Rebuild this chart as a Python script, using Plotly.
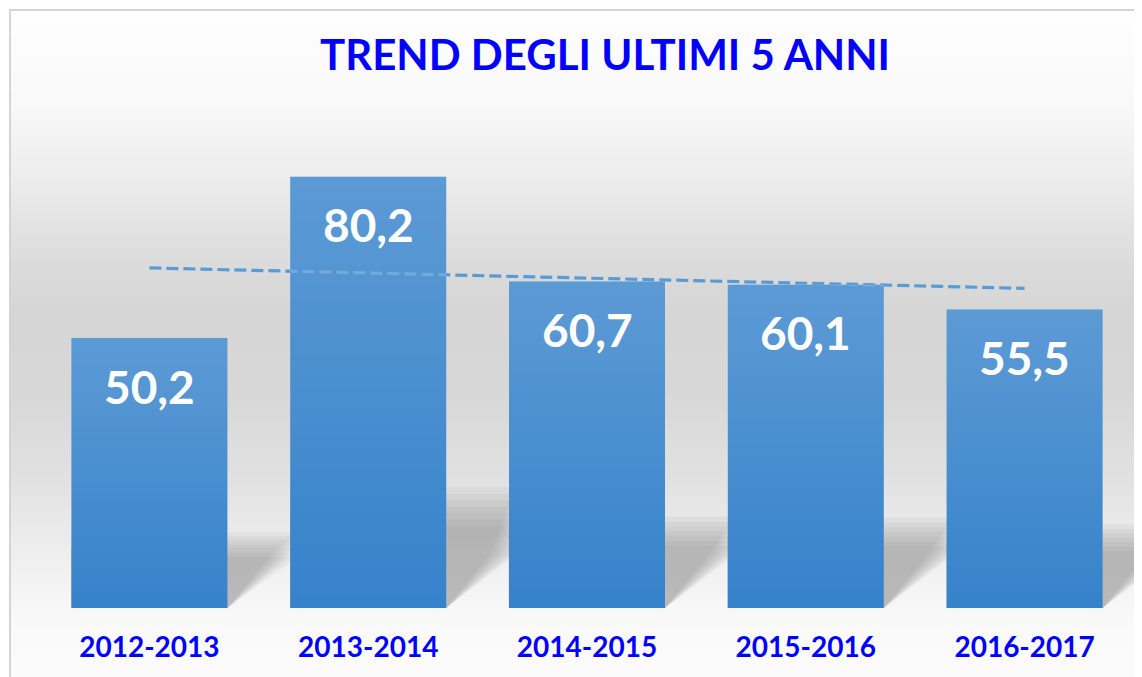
import base64
import struct
import zlib

import numpy as np
import plotly.graph_objects as go

# ---------------- data ----------------
categories = ["2012-2013", "2013-2014", "2014-2015", "2015-2016", "2016-2017"]
values = [50.2, 80.2, 60.7, 60.1, 55.5]
value_labels = [f"{v:.1f}".replace(".", ",") for v in values]
title_text = "TREND DEGLI ULTIMI 5 ANNI"

# ---------------- layout geometry (page has an 8px body margin) ----------------
OFF = 8
W, H = 1142 - OFF, 677 - OFF
ML, MR, MT, MB = 32, 8, 116, 69
PW, PH = W - ML - MR, H - MT - MB
Y_MAX = 90


def px_x(px):
    """screen x -> paper x"""
    return (px - OFF - ML) / PW


def px_y(py):
    """screen y -> paper y"""
    return (H - MB - (py - OFF)) / PH


# ---------------- PNG helpers for gradients (style only) ----------------
def _chunk(t, d):
    c = struct.pack(">I", len(d)) + t + d
    return c + struct.pack(">I", zlib.crc32(t + d) & 0xFFFFFFFF)


def png_column(pixels, color_type):
    """pixels: list of byte tuples for each row; 2-px wide image"""
    raw = b"".join(b"\x00" + bytes(p) * 2 for p in pixels)
    ihdr = struct.pack(">IIBBBBB", 2, len(pixels), 8, color_type, 0, 0, 0)
    png = (b"\x89PNG\r\n\x1a\n" + _chunk(b"IHDR", ihdr)
           + _chunk(b"IDAT", zlib.compress(raw)) + _chunk(b"IEND", b""))
    return "data:image/png;base64," + base64.b64encode(png).decode()


BG_TOP = 10
bg_height = 677 - BG_TOP
bg_stops = [(0, 254), (90, 249), (170, 236), (260, 218), (300, 214), (380, 215),
            (460, 224), (530, 236), (590, 246), (620, 250), (bg_height, 251)]
rows = np.arange(bg_height)
bg_vals = np.interp(rows, [s[0] for s in bg_stops], [s[1] for s in bg_stops])
bg_src = png_column([(int(round(v)),) for v in bg_vals], 0)

# white sheen for bars: alpha from 0.19 (top) to 0 (bottom)
sheen_n = 256
sheen_src = png_column(
    [(255, int(round(0.19 * 255 * (1 - k / (sheen_n - 1))))) for k in range(sheen_n)], 4)

fig = go.Figure()

fig.add_trace(go.Bar(
    x=categories, y=values,
    marker=dict(color="#3783cb", line=dict(width=0)),
    hoverinfo="skip", showlegend=False,
))

# linear trendline computed from the data
xi = np.arange(len(values))
slope, intercept = np.polyfit(xi, values, 1)
trend = slope * xi + intercept
fig.add_trace(go.Scatter(
    x=categories, y=trend, mode="lines",
    line=dict(color="#5b9bd5", width=3.2, dash="12px,5px"),
    hoverinfo="skip", showlegend=False,
))

# value labels inside the bars
for c, v, t in zip(categories, values, value_labels):
    fig.add_annotation(
        x=c, y=v, yshift=-48, text=t, showarrow=False,
        xanchor="center", yanchor="middle",
        font=dict(family="Lato", size=46, color="white", weight="bold"),
    )

hw = 0.357  # half bar width in category units (bargap 0.287)

shapes = []
# soft floor shadows behind each bar (derived from values)
D = 0.32
n_layers = 7
for i, v in enumerate(values):
    for k in range(n_layers):
        frac = 0.19 + 0.015 * k
        top = frac * v
        rise = min(10.0, top)
        path = (f"M {i - hw} 0 L {i + hw} 0 L {i + hw + D - 0.02 * k} {rise} "
                f"L {i + hw + D} {top} L {i - hw} {top} Z")
        shapes.append(dict(type="path", path=path, xref="x", yref="y",
                           fillcolor="rgba(110,110,110,0.075)",
                           line=dict(width=0), layer="below"))

# chart area border
shapes.append(dict(type="rect", xref="paper", yref="paper",
                   x0=px_x(10), x1=px_x(1260), y0=px_y(780), y1=px_y(10),
                   line=dict(color="#d4d4d4", width=2), fillcolor="rgba(0,0,0,0)",
                   layer="below"))

images = [dict(source=bg_src, xref="paper", yref="paper",
               x=px_x(10), y=px_y(BG_TOP), sizex=(1200 - 10) / PW,
               sizey=bg_height / PH, xanchor="left", yanchor="top",
               sizing="stretch", layer="below", opacity=1)]
# gradient sheen over each bar (placed from data values)
for i, v in enumerate(values):
    images.append(dict(source=sheen_src, xref="x", yref="y",
                       x=i - hw, y=v, sizex=2 * hw, sizey=v,
                       xanchor="left", yanchor="top", sizing="stretch",
                       layer="above", opacity=1))

fig.update_layout(
    width=W, height=H,
    margin=dict(l=ML, r=MR, t=MT, b=MB, pad=0),
    paper_bgcolor="white",
    plot_bgcolor="rgba(0,0,0,0)",
    bargap=0.287,
    shapes=shapes,
    images=images,
    title=dict(text=title_text, x=px_x(605), xref="paper", xanchor="center",
               y=1 - (55 - OFF) / H, yref="container", yanchor="middle",
               font=dict(family="Lato", size=42, color="#0000ff", weight="bold")),
    xaxis=dict(range=[-0.5, 4.5], showgrid=False, zeroline=False, showline=False,
               ticks="", ticklabelstandoff=20,
               tickfont=dict(family="Lato", size=28, color="#0000ff", weight="bold")),
    yaxis=dict(range=[0, Y_MAX], visible=False, showgrid=False, zeroline=False),
    showlegend=False,
)

fig.write_html("out.html")
